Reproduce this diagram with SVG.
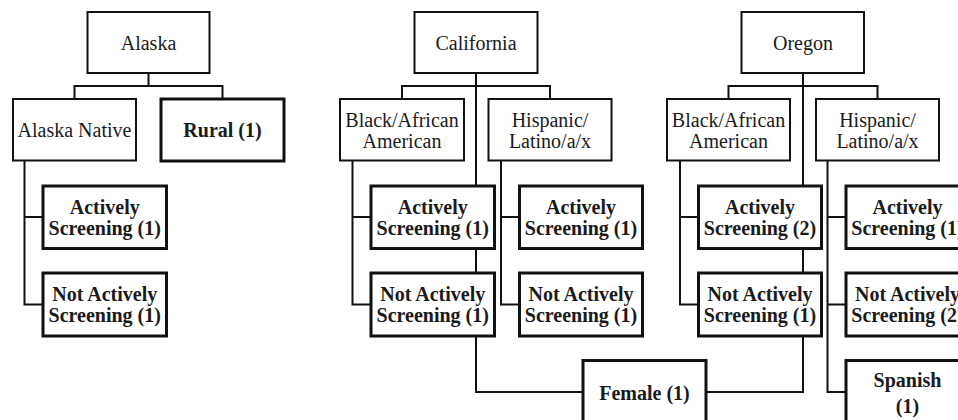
<svg xmlns="http://www.w3.org/2000/svg" width="958" height="420" viewBox="0 0 958 420">
<style>
  rect { fill: #fff; stroke: #111; }
  .thin { stroke-width: 2; }
  .thick { stroke-width: 3; }
  text { font-family: "Liberation Serif", "Times New Roman", serif; font-size: 20px; fill: #1a1a1a; text-anchor: middle; }
  .b { font-weight: bold; }
  #connectors path { fill: none; stroke: #111; stroke-width: 2; }
</style>
<rect x="0" y="0" width="958" height="420" style="fill:#fff;stroke:none"/>
<g id="connectors">
  <path d="M148.5,73 V86 M74.5,99 V86 H222.5 V99"/>
  <path d="M24.5,160.5 V304.5 M23.5,217 H43 M23.5,304.5 H43"/>
  <path d="M476,73 V186 M402,99 V86 H550 V99 M476,248.5 V273 M476,336 V392 H583"/>
  <path d="M352.5,160.5 V304.5 M351.5,217 H371 M351.5,304.5 H371"/>
  <path d="M501,160.5 V304.5 M500,217 H519.5 M500,304.5 H519.5"/>
  <path d="M803,73 V186 M728.5,99 V86 H877.5 V99 M803,248.5 V273 M803,336 V392 H706"/>
  <path d="M680,160.5 V304.5 M679,217 H698.5 M679,304.5 H698.5"/>
  <path d="M827.5,160.5 V392 M826.5,217 H846 M826.5,304.5 H846 M826.5,392 H846"/>
</g>
<g id="alaska"><rect class="thin" x="87.5" y="12" width="122" height="61"/><text x="148.5" y="49.5">Alaska</text></g>
<g id="california"><rect class="thin" x="414.5" y="12" width="123" height="61"/><text x="476" y="49.5">California</text></g>
<g id="oregon"><rect class="thin" x="741.5" y="12" width="122.5" height="61"/><text x="803" y="49.5">Oregon</text></g>

<g id="ak-native"><rect class="thin" x="13" y="99" width="123" height="61.5"/><text x="74.5" y="137">Alaska Native</text></g>
<g id="ak-rural"><rect class="thick" x="161" y="99" width="123" height="62"/><text class="b" x="222.5" y="137">Rural (1)</text></g>
<g id="ca-black"><rect class="thin" x="340" y="99" width="124" height="61.5"/><text x="402" y="126.5">Black/African</text><text x="402" y="147.5">American</text></g>
<g id="ca-hisp"><rect class="thin" x="488.5" y="99" width="123" height="61.5"/><text x="550" y="126.5">Hispanic/</text><text x="550" y="147.5">Latino/a/x</text></g>
<g id="or-black"><rect class="thin" x="667" y="99" width="123" height="61.5"/><text x="728.5" y="126.5">Black/African</text><text x="728.5" y="147.5">American</text></g>
<g id="or-hisp"><rect class="thin" x="816" y="99" width="123" height="61.5"/><text x="877.5" y="126.5">Hispanic/</text><text x="877.5" y="147.5">Latino/a/x</text></g>

<g id="ak-active"><rect class="thick" x="43" y="186" width="123.5" height="62.5"/><text class="b" x="104.75" y="213.5">Actively</text><text class="b" x="104.75" y="234.5">Screening (1)</text></g>
<g id="ak-notactive"><rect class="thick" x="43" y="273" width="123.5" height="63"/><text class="b" x="104.75" y="301">Not Actively</text><text class="b" x="104.75" y="322">Screening (1)</text></g>

<g id="ca-black-active"><rect class="thick" x="371" y="186" width="123.5" height="62.5"/><text class="b" x="432.75" y="213.5">Actively</text><text class="b" x="432.75" y="234.5">Screening (1)</text></g>
<g id="ca-black-notactive"><rect class="thick" x="371" y="273" width="123.5" height="63"/><text class="b" x="432.75" y="301">Not Actively</text><text class="b" x="432.75" y="322">Screening (1)</text></g>
<g id="ca-hisp-active"><rect class="thick" x="519.5" y="186" width="123" height="62.5"/><text class="b" x="581" y="213.5">Actively</text><text class="b" x="581" y="234.5">Screening (1)</text></g>
<g id="ca-hisp-notactive"><rect class="thick" x="519.5" y="273" width="123" height="63"/><text class="b" x="581" y="301">Not Actively</text><text class="b" x="581" y="322">Screening (1)</text></g>

<g id="or-black-active"><rect class="thick" x="698.5" y="186" width="123" height="62.5"/><text class="b" x="760" y="213.5">Actively</text><text class="b" x="760" y="234.5">Screening (2)</text></g>
<g id="or-black-notactive"><rect class="thick" x="698.5" y="273" width="123" height="63"/><text class="b" x="760" y="301">Not Actively</text><text class="b" x="760" y="322">Screening (1)</text></g>
<g id="or-hisp-active"><rect class="thick" x="846" y="186" width="123" height="62.5"/><text class="b" x="907.5" y="213.5">Actively</text><text class="b" x="907.5" y="234.5">Screening (1)</text></g>
<g id="or-hisp-notactive"><rect class="thick" x="846" y="273" width="123" height="63"/><text class="b" x="907.5" y="301">Not Actively</text><text class="b" x="907.5" y="322">Screening (2)</text></g>

<g id="female"><rect class="thick" x="583" y="360.5" width="123" height="63"/><text class="b" x="644.5" y="400">Female (1)</text></g>
<g id="spanish"><rect class="thick" x="846" y="360.5" width="123" height="63"/><text class="b" x="907.5" y="387">Spanish</text><text class="b" x="907.5" y="413">(1)</text></g>
</svg>
